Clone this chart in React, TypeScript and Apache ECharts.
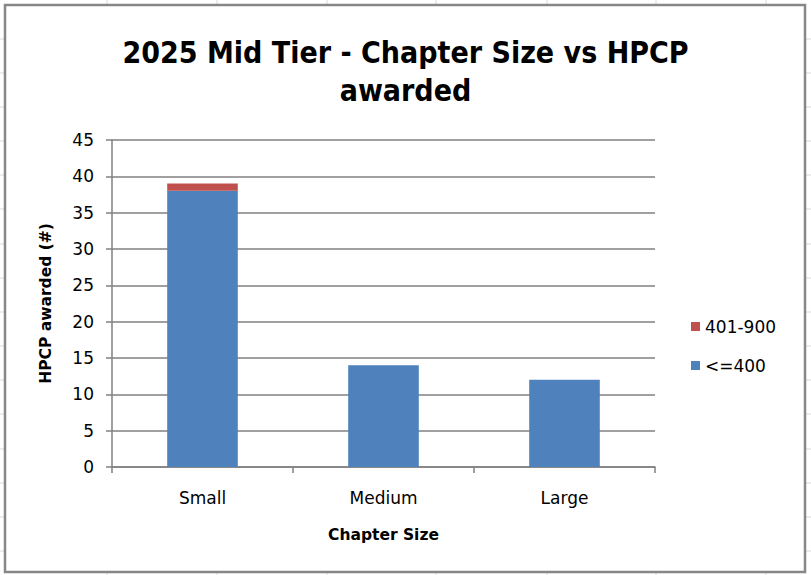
import React, { useEffect, useRef } from 'react';
import * as echarts from 'echarts';

const categories = ['Small', 'Medium', 'Large'];
const upTo400 = [38, 14, 12];
const from401To900 = [1, 0, 0];
const legendNames = ['401-900', '<=400'];

// faint spreadsheet cell lines around the chart box
const cellColumns = [107, 217, 327, 436, 547, 656, 766];
const cellRows = [39, 73, 107, 141, 175, 209, 244, 278, 312, 346, 380, 414, 449, 483, 517, 551];

const W = 811;
const H = 575;

const App: React.FC = () => {
  const chartRef = useRef<HTMLDivElement>(null);

  useEffect(() => {
    document.body.style.margin = '0';
    if (!chartRef.current) return;
    const chart = echarts.init(chartRef.current, undefined, { renderer: 'svg' });

    const sheetLines: any[] = [];
    cellColumns.forEach((x) => {
      sheetLines.push({
        type: 'line',
        shape: { x1: x, y1: 0, x2: x, y2: H },
        style: { stroke: '#d9d9d9', lineWidth: 1 },
        z: -20,
      });
    });
    cellRows.forEach((y) => {
      sheetLines.push({
        type: 'line',
        shape: { x1: 0, y1: y, x2: W, y2: y },
        style: { stroke: '#d9d9d9', lineWidth: 1 },
        z: -20,
      });
    });

    const option: echarts.EChartsOption = {
      animation: false,
      backgroundColor: '#ffffff',
      graphic: [
        ...sheetLines,
        {
          type: 'rect',
          shape: { x: 5, y: 5, width: 800, height: 567 },
          style: { fill: '#ffffff', stroke: '#878787', lineWidth: 2.5 },
          z: -10,
        },
      ],
      title: {
        text: '2025 Mid Tier - Chapter Size vs HPCP\nawarded',
        left: 'center',
        top: 28,
        textStyle: {
          fontFamily: '"DejaVu Sans Condensed", "Liberation Sans Narrow", sans-serif',
          fontWeight: 'bold',
          fontSize: 30,
          lineHeight: 38,
          color: '#000000',
        },
      },
      legend: {
        orient: 'vertical',
        left: 686,
        top: 313,
        itemWidth: 9,
        itemHeight: 9,
        itemGap: 22,
        icon: 'rect',
        data: legendNames,
        textStyle: {
          fontFamily: '"DejaVu Sans", sans-serif',
          fontSize: 17,
          color: '#000000',
        },
      },
      grid: {
        left: 112,
        right: 156,
        top: 140,
        bottom: 108,
        containLabel: false,
      },
      xAxis: {
        type: 'category',
        data: categories,
        name: 'Chapter Size',
        nameLocation: 'middle',
        nameGap: 60,
        nameTextStyle: {
          fontFamily: '"DejaVu Sans", sans-serif',
          fontWeight: 'bold',
          fontSize: 15.5,
          color: '#000000',
        },
        axisLine: { lineStyle: { color: '#808080', width: 1.5 } },
        axisTick: { show: true, alignWithLabel: false, length: 6, lineStyle: { color: '#808080', width: 1.5 } },
        axisLabel: {
          fontFamily: '"DejaVu Sans", sans-serif',
          fontSize: 17,
          color: '#000000',
          margin: 22,
        },
      },
      yAxis: {
        type: 'value',
        min: 0,
        max: 45,
        interval: 5,
        name: 'HPCP awarded (#)',
        nameLocation: 'middle',
        nameGap: 58,
        nameTextStyle: {
          fontFamily: '"DejaVu Sans", sans-serif',
          fontWeight: 'bold',
          fontSize: 15.5,
          color: '#000000',
        },
        axisLine: { show: true, lineStyle: { color: '#808080', width: 1.5 } },
        axisTick: { show: true, length: 6, lineStyle: { color: '#808080', width: 1.5 } },
        axisLabel: {
          fontFamily: '"DejaVu Sans", sans-serif',
          fontSize: 17,
          color: '#000000',
          margin: 18,
        },
        splitLine: { lineStyle: { color: '#808080', width: 1.5 } },
      },
      series: [
        {
          name: '<=400',
          type: 'bar',
          stack: 'total',
          barWidth: '39%',
          data: upTo400,
          itemStyle: { color: '#4f81bd' },
        },
        {
          name: '401-900',
          type: 'bar',
          stack: 'total',
          barWidth: '39%',
          data: from401To900,
          itemStyle: { color: '#c0504d' },
        },
      ],
    };

    chart.setOption(option);
    return () => {
      chart.dispose();
    };
  }, []);

  return <div ref={chartRef} style={{ width: W, height: H }} />;
};

export default App;
